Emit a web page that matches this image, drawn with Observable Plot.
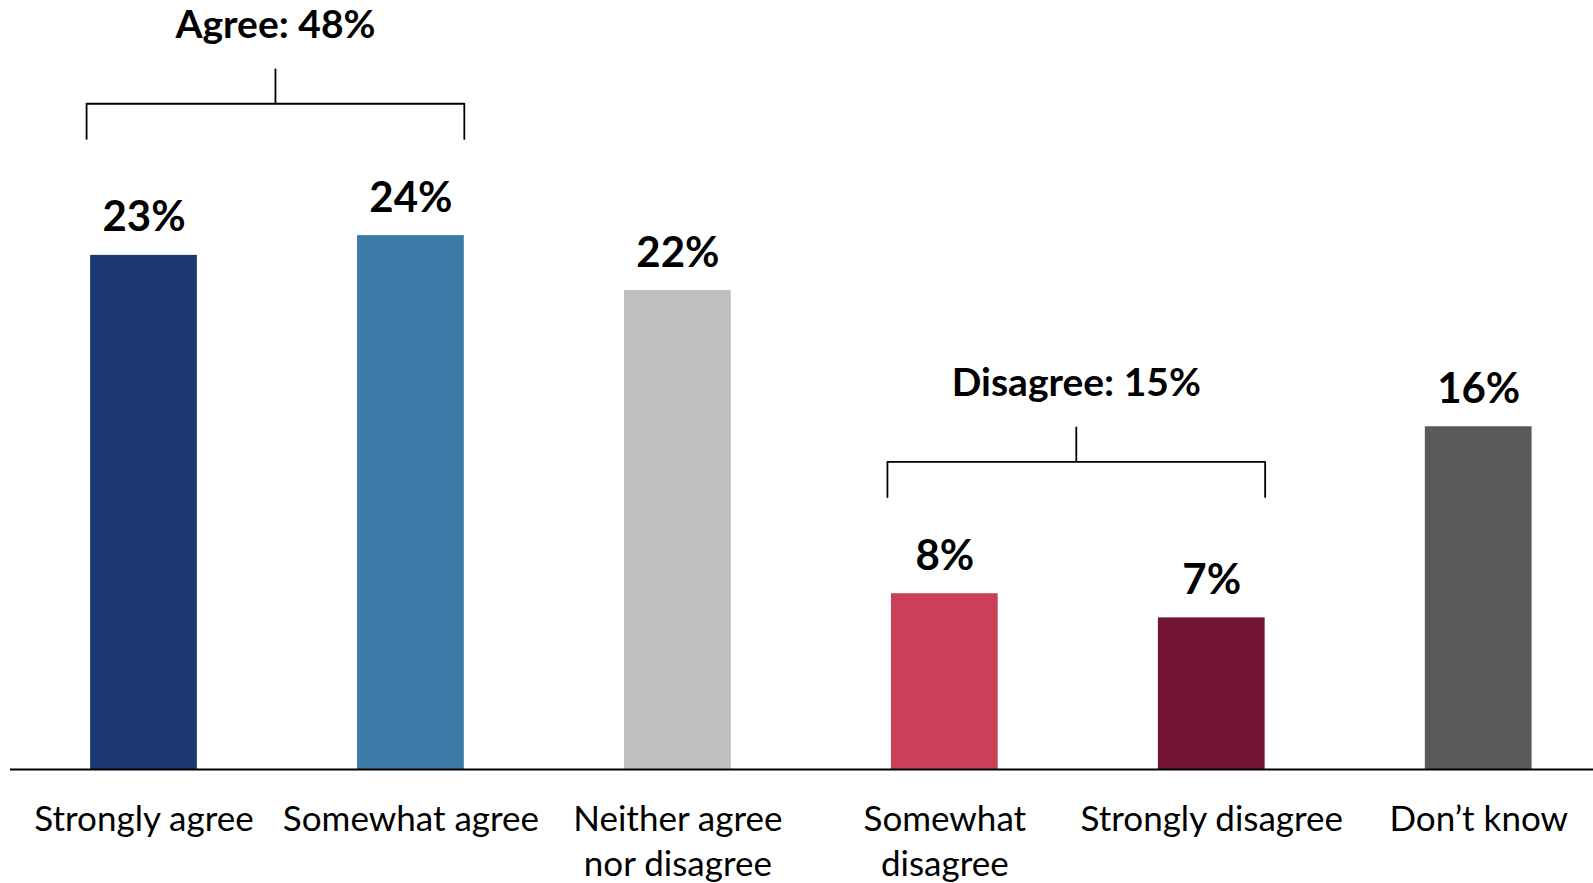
<!DOCTYPE html>
<html>
<head>
<meta charset="utf-8">
<script src="https://cdn.jsdelivr.net/npm/d3@7"></script>
<script src="https://cdn.jsdelivr.net/npm/@observablehq/plot@0.6"></script>
<style>
  html, body { margin: 0; padding: 0; background: #fff; }
  #chart svg { display: block; }
</style>
</head>
<body>
<div id="chart"></div>
<script>
const categories = ["Strongly agree", "Somewhat agree", "Neither agree\nnor disagree", "Somewhat\ndisagree", "Strongly disagree", "Don’t know"];
const values = [23.4, 24.3, 21.8, 8.0, 6.9, 15.6];
const valueLabels = ["23%", "24%", "22%", "8%", "7%", "16%"];
const colors = ["#1B3870", "#3C7AA8", "#BFBFBF", "#CB4059", "#721433", "#5A5A5A"];
const groupLabels = ["Agree: 48%", "Disagree: 15%"];
const groupFrom = [0, 3];
const groupTo = [1, 4];

const bars = categories.map((c, i) => ({i, c, v: values[i], label: valueLabels[i], color: colors[i]}));
const half = 0.2;

const groups = groupLabels.map((g, k) => {
  const top = d3.max(values.slice(groupFrom[k], groupTo[k] + 1));
  return {
    label: g,
    x1: groupFrom[k] - half - 0.015,
    x2: groupTo[k] + half,
    yb: top + 4.4,
    yh: top + 6.0,
    ys: top + 7.6
  };
});
const bracketPts = groups.flatMap((g, k) => [
  {k, x: g.x1, y: g.yb}, {k, x: g.x1, y: g.yh}, {k, x: g.x2, y: g.yh}, {k, x: g.x2, y: g.yb}
]);

const FONT = "Lato, 'Open Sans', sans-serif";
const axisFs = 35;

const chart = Plot.plot({
  width: 1593,
  height: 883,
  marginLeft: 10,
  marginRight: 0,
  marginTop: 0,
  marginBottom: 114,
  style: {fontFamily: FONT, background: "#fff", color: "#000"},
  x: {domain: [-0.5, 5.43], axis: null},
  y: {domain: [0, 35], axis: null},
  marks: [
    Plot.rectY(bars, {x1: d => d.i - half, x2: d => d.i + half, y1: 0, y2: "v", fill: "color"}),
    Plot.ruleY([0], {stroke: "#000", strokeWidth: 2}),
    Plot.text(bars, {x: "i", y: "v", text: "label", dy: -24, lineAnchor: "bottom",
      fontSize: 42, fontWeight: "bold", fill: "#000"}),
    Plot.text(bars, {x: "i", y: 0, text: "c", lineAnchor: "top", dy: 30,
      lineHeight: 45 / axisFs, fontSize: axisFs, fill: "#000"}),
    Plot.line(bracketPts, {x: "x", y: "y", z: "k", stroke: "#000", strokeWidth: 1.8}),
    Plot.link(groups, {x1: d => (d.x1 + d.x2) / 2, x2: d => (d.x1 + d.x2) / 2, y1: "yh", y2: "ys",
      stroke: "#000", strokeWidth: 1.8}),
    Plot.text(groups, {x: d => (d.x1 + d.x2) / 2, y: "ys", text: "label", dy: -31, lineAnchor: "bottom",
      fontSize: 39, fontWeight: "bold", fill: "#000"})
  ]
});
document.getElementById("chart").append(chart);
</script>
</body>
</html>
